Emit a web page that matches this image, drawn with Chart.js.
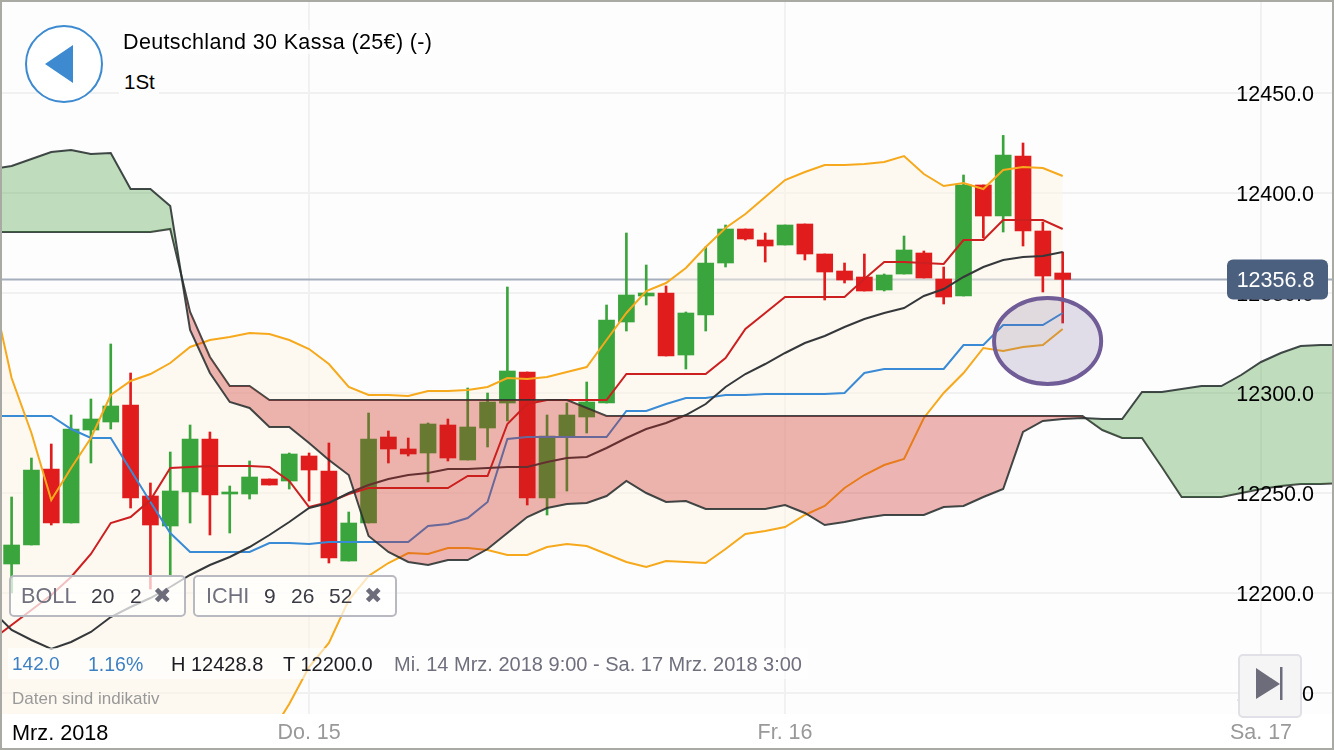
<!DOCTYPE html>
<html lang="de">
<head>
<meta charset="utf-8">
<title>Deutschland 30 Kassa</title>
<script src="https://cdn.jsdelivr.net/npm/chart.js@4/dist/chart.umd.js"></script>
<style>
  html, body { margin: 0; padding: 0; background: #fff; }
  #wrap { position: relative; width: 1334px; height: 750px; overflow: hidden; font-family: "Liberation Sans", sans-serif; }
  #chart { position: absolute; left: 0; top: 0; }
  .t { position: absolute; white-space: nowrap; line-height: 24px; font-size: 20.5px; color: #000; }
  .chip { position: absolute; top: 575px; height: 38px; box-sizing: content-box; border: 2px solid #b9b9c1; border-radius: 5px; background: rgba(255,255,255,.72); }
  .chip span { position: absolute; top: 7px; line-height: 24px; font-size: 21px; color: #3a3a45; }
  .chip .name { color: #70707e; font-size: 21.7px; }
  .chip .close { font-family: "DejaVu Sans"; font-size: 22px; color: #6c6c7a; }
  #frame { position: absolute; inset: 0; border: 2px solid #aaaaa4; pointer-events: none; }
  #info { position: absolute; left: 8px; top: 648px; width: 800px; height: 31px; background: rgba(255,255,255,.6); }
  #next { position: absolute; left: 1238px; top: 654px; width: 60px; height: 60px; border: 2px solid #e0e0e6; border-radius: 5px; background: #f5f5f6; }
  svg { position: absolute; }
</style>
</head>
<body>
<div id="wrap">
  <canvas id="chart" width="1334" height="750"></canvas>

  <svg style="left:20px;top:20px" width="88" height="88">
    <circle cx="44" cy="44" r="38" fill="#fff" stroke="#3d8ad0" stroke-width="2"/>
    <path d="M25 44 L53 25 L53 63 Z" fill="#3d8ad0"/>
  </svg>
  <div class="t" style="left:123px;top:30px;font-size:21.5px;letter-spacing:.35px;background:rgba(255,255,255,.7)">Deutschland 30 Kassa (25€) (-)</div>
  <div class="t" style="left:119px;top:64px;padding:6px 4px 4px 5px;background:#fdfdfd">1St</div>

  <div class="chip" style="left:9px;width:173px">
    <span class="name" style="left:10px">BOLL</span><span style="left:80px">20</span><span style="left:119px">2</span><span class="close" style="left:142px">✖</span>
  </div>
  <div class="chip" style="left:193px;width:200px">
    <span class="name" style="left:11px">ICHI</span><span style="left:69px">9</span><span style="left:96px">26</span><span style="left:134px">52</span><span class="close" style="left:169px">✖</span>
  </div>

  <div id="info"></div>
  <div class="t" style="left:12px;top:652px;font-size:19px;color:#3d80c4">142.0</div>
  <div class="t" style="left:88px;top:652px;font-size:19.5px;color:#3d80c4">1.16%</div>
  <div class="t" style="left:171px;top:652px;font-size:20px;color:#1c1c22">H 12428.8</div>
  <div class="t" style="left:283px;top:652px;font-size:20px;color:#1c1c22">T 12200.0</div>
  <div class="t" style="left:394px;top:652px;font-size:20px;color:#6f6f7d">Mi. 14 Mrz. 2018 9:00 - Sa. 17 Mrz. 2018 3:00</div>
  <div class="t" style="left:12px;top:687px;font-size:17px;color:#999">Daten sind indikativ</div>
  <div class="t" style="left:12px;top:721px;font-size:21.7px">Mrz. 2018</div>

  <div id="next"></div>
  <svg style="left:1238px;top:654px" width="64" height="64">
    <path d="M18 14 L18 45 L42 30 Z" fill="#6c6c7a"/>
    <rect x="42" y="13" width="2.5" height="33" fill="#6c6c7a"/>
  </svg>
  <div id="frame"></div>
</div>

<script>
// hourly candles, index 0 = Mi. 14 Mrz. 9:00
const opens = [12214.5,12224,12262,12235,12281.5,12285.5,12294,12248.5,12233.5,12250.5,12277,12249.5,12249.5,12257,12256,12268.5,12261,12216,12235,12278,12272,12270,12284,12266.5,12282.5,12295,12310.5,12247.5,12278,12288,12295,12335.5,12348.5,12350,12319,12339,12365,12382,12376.5,12374,12384.5,12369.5,12361,12358,12351.5,12359.5,12370,12357,12348.5,12404,12388.5,12418.5,12381,12360];
const closes = [12224,12261.5,12235,12282,12287,12293.5,12247.5,12234,12251,12277,12249,12250.5,12258,12254,12269.5,12261.5,12217.5,12235,12277,12272,12269.5,12284.5,12267.5,12283,12295.5,12311,12247.5,12278.5,12289,12295.5,12336.5,12349,12350,12318.5,12340,12365,12382,12377,12373.5,12384,12369.5,12360.5,12356.5,12351,12359,12371.5,12357.5,12348,12404,12388.5,12419,12381,12358.5,12356.8];
const highs = [12248,12267.5,12274.5,12289,12297,12324.5,12310,12255,12270.5,12284,12280.5,12253.5,12266,12257,12270,12270,12275,12240.5,12290,12281,12277.5,12285,12287,12302.5,12300,12353,12310.5,12289,12295,12305.5,12344,12380,12364,12353.5,12340.5,12373,12384,12382,12380,12384,12384.5,12369.5,12365,12369.5,12359.5,12378.5,12371,12363,12409,12404,12428.8,12425,12385.5,12370.5];
const lows = [12200,12224,12234,12235,12265,12282,12242.5,12202,12208.5,12235,12229,12230,12247,12254,12252,12246,12215,12216,12235,12265,12268.5,12255.5,12266,12266.5,12273,12286,12244,12239,12251,12280,12295,12331,12344,12318.5,12312,12331,12363,12376.5,12365.5,12374,12366.5,12346.5,12355,12351,12351,12359.5,12357.5,12344.5,12348.5,12377.5,12380.5,12373.5,12350.5,12335];

// indicators start one candle before the first visible one (index -1)
const bandUpper = [12352.5,12307.5,12280,12246.5,12262.5,12277.5,12299,12306,12309.5,12315,12323,12326.5,12328,12330,12329.5,12326.5,12322,12314.5,12303,12299,12299,12298.5,12301,12301,12301.5,12303,12307.5,12307,12308,12310.5,12313,12326.5,12340,12351,12355,12362.5,12373,12382.5,12389.5,12398,12406.5,12410.5,12414,12414,12414.5,12415.5,12418.5,12409.5,12403.5,12405,12402,12411.5,12413,12412.5,12408.5];
const bandMiddle = [12191.5,12181.5,12176.5,12172,12175.5,12180.5,12188,12193,12197.5,12203,12209,12214,12218,12223,12229,12235.5,12242.5,12245,12250,12254,12257,12259,12260,12262,12262,12262.5,12263,12263,12265.5,12267.5,12268,12272.5,12277.5,12282,12285,12289,12294.5,12303,12309.5,12314.5,12320,12325,12328.5,12333,12337,12340,12342.5,12348.5,12352,12358,12363,12366.5,12368,12368.5,12370.5];
const bandLower = [12030,12055.5,12073,12097.5,12088.5,12083.5,12077,12080,12085.5,12091,12095,12101.5,12108,12116,12128.5,12144.5,12163,12175,12196.5,12208.5,12215,12220,12219.5,12222.5,12222.5,12221.5,12219,12219,12223,12224.5,12223.5,12219.5,12215.5,12213,12216,12215.5,12215,12222,12229.5,12231,12233,12239,12243.5,12252.5,12259,12264,12267,12287.5,12300,12310,12322.5,12321,12323,12324,12332];
const tenkan = [12176.5,12184,12191.5,12199,12208,12219.5,12235,12238,12246.5,12262.5,12263,12263.5,12263.5,12263.5,12263,12256,12243,12245.5,12249.5,12252.5,12252.5,12252.5,12252.5,12252.5,12258.5,12258.5,12284.5,12294.5,12296.5,12296.5,12296.5,12296.5,12309.5,12309.5,12309.5,12309.5,12309.5,12317.5,12332,12340,12348,12348,12348,12348,12357,12365.5,12365.5,12365,12364.5,12376.5,12376.5,12386.5,12386.5,12386.5,12382];
const kijun = [12288.5,12288.5,12288.5,12288.5,12282,12277.5,12277.5,12261.5,12245.5,12230,12220.5,12220.5,12220.5,12220.5,12225,12225,12224.5,12225.5,12225.5,12225.5,12225.5,12225.5,12233.5,12234.5,12237.5,12245.5,12277,12278,12278,12278,12278,12278,12291,12291,12294.5,12297.5,12297.5,12299,12299,12299.5,12299.5,12299.5,12299.5,12300,12310,12312,12312,12312,12312,12324,12324,12334,12334,12334,12340];
const spanA = [12412,12413.5,12417,12420.5,12421.5,12419.5,12420,12402,12402,12393.5,12331.5,12310,12295.5,12292.5,12283,12283,12275,12266.5,12259,12228.5,12220.5,12215.5,12214,12216.5,12216.5,12222,12230,12238,12242.5,12244.5,12245,12248.5,12256,12250,12245.5,12246,12242,12242,12242,12242,12244,12240,12234,12235.5,12237.5,12239,12239,12239,12243,12243.5,12248,12252,12280.5,12286,12287,12287.5,12287,12287,12300.5,12300.5,12302,12303.5,12303.5,12309,12315.5,12320,12323.5,12324,12324];
const spanB = [12380.5,12380.5,12380.5,12380.5,12380.5,12380.5,12380.5,12380.5,12380.5,12382,12340.5,12318,12303.5,12303.5,12296.5,12296.5,12296.5,12296.5,12296.5,12296.5,12296.5,12296.5,12296.5,12296.5,12296.5,12296.5,12296.5,12296.5,12296.5,12296.5,12292.5,12288.5,12288.5,12288.5,12288.5,12288.5,12288.5,12288.5,12288.5,12288.5,12288.5,12288.5,12288.5,12288.5,12288.5,12288.5,12288.5,12288.5,12288.5,12288.5,12288.5,12288.5,12288.5,12288.5,12288.5,12288.5,12281.5,12277.5,12277.5,12263,12248,12248,12248,12250,12252,12253.5,12254.5,12254.5,12255];

const yTicks = [12150, 12200, 12250, 12300, 12350, 12400, 12450];
const dayTicks = [15, 39, 63];
const dayLabels = ['Do. 15', 'Fr. 16', 'Sa. 17'];
const lastPrice = 12356.8;
// marked area around the latest candle (candle index / price)
const markCenter = [52.24, 12326];
const markRadius = [2.7, 21.5];

const RED = '#e01c1d';
const GREEN = '#3aa53c';

const candleColors = opens.map((o, i) => (closes[i] >= o ? GREEN : RED));
const toPoints = (values, start) => values.map((v, i) => ({ x: i + start, y: v }));
const lineSet = (values, color, order, extra) => Object.assign({
  type: 'line',
  data: toPoints(values, -1),
  borderColor: color,
  borderWidth: 2,
  pointRadius: 0,
  tension: 0,
  fill: false,
  order: order
}, extra);

// backdrop, last price line, marked ellipse and price tag
const chartExtras = {
  id: 'chartExtras',
  beforeDraw(chart) {
    const { ctx, chartArea: a } = chart;
    ctx.save();
    ctx.fillStyle = '#fdfdfd';
    ctx.fillRect(a.left, a.top, a.width, a.height);
    ctx.restore();
  },
  beforeDatasetsDraw(chart) {
    const { ctx, chartArea: a, scales } = chart;
    const y = scales.y.getPixelForValue(lastPrice);
    ctx.save();
    ctx.strokeStyle = '#a5aebd';
    ctx.lineWidth = 2;
    ctx.beginPath();
    ctx.moveTo(a.left, y);
    ctx.lineTo(a.right, y);
    ctx.stroke();
    ctx.restore();
  },
  afterDatasetsDraw(chart) {
    const { ctx, scales } = chart;
    const cx = scales.x.getPixelForValue(markCenter[0]);
    const cy = scales.y.getPixelForValue(markCenter[1]);
    const rx = scales.x.getPixelForValue(markCenter[0] + markRadius[0]) - cx;
    const ry = cy - scales.y.getPixelForValue(markCenter[1] + markRadius[1]);
    ctx.save();
    ctx.fillStyle = 'rgba(112,88,152,0.2)';
    ctx.strokeStyle = '#705c96';
    ctx.lineWidth = 4;
    ctx.beginPath();
    ctx.ellipse(cx, cy, rx, ry, 0, 0, Math.PI * 2);
    ctx.fill();
    ctx.stroke();
    ctx.restore();
  },
  afterDraw(chart) {
    const { ctx, scales } = chart;
    const y = scales.y.getPixelForValue(lastPrice);
    ctx.save();
    ctx.fillStyle = '#4b5f7f';
    ctx.beginPath();
    ctx.roundRect(1227, y - 20, 101, 40, 6);
    ctx.fill();
    ctx.fillStyle = '#fff';
    ctx.font = '21.5px "Liberation Sans"';
    ctx.textAlign = 'center';
    ctx.textBaseline = 'middle';
    ctx.fillText(lastPrice.toFixed(1), 1275.5, y + 2);
    ctx.restore();
  }
};

new Chart(document.getElementById('chart'), {
  type: 'line',
  data: {
    datasets: [
      // cream area between the bands, sits below the candles
      lineSet(bandUpper, 'transparent', 10, {
        borderWidth: 0,
        fill: { target: 1, above: 'rgba(254,245,230,0.5)', below: 'rgba(254,245,230,0.5)' }
      }),
      lineSet(bandLower, '#f6a91c', 5),
      lineSet(bandUpper, '#f6a91c', 5),
      lineSet(bandMiddle, '#35383a', 5),
      lineSet(tenkan, '#cc1f20', 5),
      lineSet(kijun, '#3a8bd5', 5),
      {
        type: 'bar',
        data: highs.map((h, i) => ({ x: i, y: [lows[i], h] })),
        backgroundColor: candleColors,
        barThickness: 2,
        grouped: false,
        order: 9
      },
      {
        type: 'bar',
        data: opens.map((o, i) => ({ x: i, y: [o, closes[i]] })),
        backgroundColor: candleColors,
        barThickness: 16,
        grouped: false,
        minBarLength: 2,
        order: 8
      },
      // ichimoku cloud is on top of everything
      lineSet(spanA, 'rgba(40,48,48,0.88)', 1, {
        fill: { target: '+1', above: 'rgba(50,147,43,0.3)', below: 'rgba(202,31,29,0.32)' }
      }),
      lineSet(spanB, 'rgba(40,48,48,0.88)', 1)
    ]
  },
  plugins: [chartExtras],
  options: {
    responsive: false,
    animation: false,
    events: [],
    layout: { padding: { left: 2, right: 2, top: 2, bottom: 0 } },
    plugins: { legend: { display: false }, tooltip: { enabled: false } },
    scales: {
      x: {
        type: 'linear',
        min: -0.484,
        max: 66.58,
        offset: false,
        border: { display: false },
        grid: { offset: false, color: '#f1f1f1', lineWidth: 2, drawTicks: false },
        afterBuildTicks: scale => { scale.ticks = dayTicks.map(value => ({ value })); },
        afterFit: scale => { scale.paddingLeft = 0; scale.paddingRight = 0; scale.height = 36; },
        ticks: {
          autoSkip: false,
          maxRotation: 0,
          padding: 6,
          color: '#999',
          font: { family: '"Liberation Sans"', size: 21.5 },
          callback: value => dayLabels[dayTicks.indexOf(value)]
        }
      },
      y: {
        position: 'right',
        min: 12139.5,
        max: 12495.5,
        border: { display: false },
        grid: { color: '#f1f1f1', lineWidth: 2, drawTicks: false },
        afterBuildTicks: scale => { scale.ticks = yTicks.map(value => ({ value })); },
        afterFit: scale => { scale.paddingTop = 0; scale.paddingBottom = 0; scale.width = 0; },
        ticks: {
          mirror: true,
          padding: -18,
          labelOffset: 2,
          z: 1,
          color: '#000',
          font: { family: '"Liberation Sans"', size: 21.5 },
          callback: value => value.toFixed(1)
        }
      }
    }
  }
});
</script>
</body>
</html>
